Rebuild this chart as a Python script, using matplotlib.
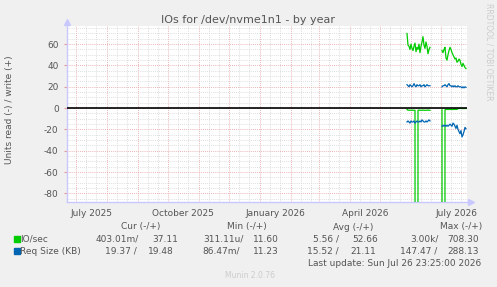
import matplotlib
matplotlib.use("Agg")
import matplotlib.pyplot as plt
import matplotlib.dates as mdates
import pandas as pd

plt.rcParams["axes.unicode_minus"] = False

W, H = 497, 287

# daily samples (munin year graph: one point per day)
seg1_start = "2026-05-28"
seg2_start = "2026-07-02"

io_write_1 = [70, 59, 58, 55, 60, 56, 54, 58, 61, 53, 57, 55, 60, 52, 58, 62,
              67, 59, 56, 62, 58, 51, 55, 57]
io_write_2 = [54, 52, 55, 57, 47, 45, 50, 54, 57, 55, 52, 50, 48, 46, 47, 43,
              44, 46, 45, 41, 39, 42, 40, 38, 37.1]
io_read_1 = [-1.2, -2, -1.8, -2, -2, -1.8, -2, -2, -2, -3000, -3000, -2, -1.8,
             -2, -2, -2, -1.8, -2, -2, -2, -2, -1.8, -2, -2]
io_read_2 = [-1.5, -3000, -3000, -1.5, -1.2, -1.2, -1.3, -1.2, -1.2, -1.2,
             -1.3, -1.2, -1.2, -1.2, -1.2, -1.2, -0.4, -0.3, -0.4, -0.3, -0.4,
             -0.3, -0.4, -0.3, -0.4]
rq_write_1 = [22, 21, 20, 22, 21, 20, 21, 23, 21, 20, 22, 21, 21, 22, 20, 21,
              21, 22, 20, 21, 22, 21, 21, 21]
rq_write_2 = [20, 21, 21, 22, 21, 20, 22, 23, 21, 21, 20, 21, 20, 21, 20, 20,
              21, 20, 20, 20, 19, 20, 19, 20, 19.5]
rq_read_1 = [-13, -12, -13, -14, -12, -13, -13, -12, -14, -13, -12, -13, -13,
             -12, -13, -11, -12, -13, -13, -12, -13, -12, -11, -12]
rq_read_2 = [-17, -16, -17, -16, -17, -16, -17, -16, -15, -16, -17, -14, -15,
             -17, -19, -16, -20, -22, -24, -21, -27, -25, -22, -18, -19.4]

series_names = ["IO/sec", "Req Size (KB)"]
series_colors = ["#00CC00", "#0066B3"]
col_headers = ["Cur (-/+)", "Min (-/+)", "Avg (-/+)", "Max (-/+)"]
io_stats = ["403.01m/", "37.11", "311.11u/", "11.60", "5.56 /", "52.66", "3.00k/", "708.30"]
rq_stats = ["19.37 /", "19.48", "86.47m/", "11.23", "15.52 /", "21.11", "147.47 /", "288.13"]

d1 = pd.date_range(seg1_start, periods=len(io_write_1), freq="D")
d2 = pd.date_range(seg2_start, periods=len(io_write_2), freq="D")

fig = plt.figure(figsize=(W / 100, H / 100), dpi=100, facecolor="#F0F0F0")
L, R, T, B = 67, 467, 26, 202
ax = fig.add_axes([L / W, 1 - B / H, (R - L) / W, (B - T) / H])
ax.set_facecolor("white")

def fx(x):
    return x / W

def fy(y):
    return 1 - y / H

# lines
for d, a, b, c in [(d1, io_write_1, io_read_1, series_colors[0]),
                   (d2, io_write_2, io_read_2, series_colors[0]),
                   (d1, rq_write_1, rq_read_1, series_colors[1]),
                   (d2, rq_write_2, rq_read_2, series_colors[1])]:
    ax.plot(d, a, color=c, lw=0.9, zorder=3)
    ax.plot(d, b, color=c, lw=0.9, zorder=3)

ax.axhline(0, color="black", lw=1.2, zorder=4)

ax.set_xlim(pd.Timestamp("2025-06-22"), pd.Timestamp("2026-07-27"))
ax.set_ylim(-88, 77)

# grid
ax.xaxis.set_major_locator(mdates.MonthLocator())
ax.xaxis.set_minor_locator(mdates.MonthLocator(bymonthday=[11, 21]))
ax.yaxis.set_major_locator(plt.MultipleLocator(20))
ax.yaxis.set_minor_locator(plt.MultipleLocator(5))
ax.grid(which="minor", color="#D4D4D4", lw=0.6, ls=(0, (1, 1.5)), zorder=1)
ax.grid(which="major", color="#E49C9C", lw=0.6, ls=(0, (1, 1.5)), zorder=2)
ax.set_xticklabels([])
ax.tick_params(axis="x", which="both", length=0)
ax.tick_params(axis="y", which="minor", length=0)
ax.tick_params(axis="y", which="major", length=2, color="#E49C9C",
               labelsize=6.5, labelcolor="#555555", pad=4)

for s in ["top", "right"]:
    ax.spines[s].set_visible(False)
for s in ["left", "bottom"]:
    ax.spines[s].set_color("#C8C8FF")
    ax.spines[s].set_linewidth(1.0)
ax.plot([0], [1.02], marker="^", color="#C8C8FF", ms=4, transform=ax.transAxes, clip_on=False)
ax.plot([1.01], [0], marker=">", color="#C8C8FF", ms=4, transform=ax.transAxes, clip_on=False)

# month labels (rrdtool centers them mid-month)
for lab in ["2025-07-16", "2025-10-16", "2026-01-16", "2026-04-16", "2026-07-16"]:
    t = pd.Timestamp(lab)
    ax.text(t, -0.065, t.strftime("%B %Y"), transform=ax.get_xaxis_transform(),
            ha="center", va="center", fontsize=6.5, color="#555555")

# titles
fig.text(fx(248), fy(20), "IOs for /dev/nvme1n1 - by year", ha="center", va="center",
         fontsize=8, color="#555555")
fig.text(fx(10), fy(110), "Units read (-) / write (+)", rotation=90, ha="center",
         va="center", fontsize=6.5, color="#555555")
fig.text(fx(489), fy(52), "RRDTOOL / TOBI OETIKER", rotation=270, ha="center",
         va="center", fontsize=5.5, color="#CCCCCC")

# legend
hdr_x = [121, 227, 333, 440]
for x, h in zip(hdr_x, col_headers):
    fig.text(fx(x), fy(227), h, ha="left", va="center", fontsize=6.5, color="#555555")

io_x = [96, 152, 203, 253, 313, 352, 410, 447]
rq_x = [105, 148, 202, 253, 307, 350, 400, 447]
for yy, name, color, stats, xs in [(239, series_names[0], series_colors[0], io_stats, io_x),
                                    (251, series_names[1], series_colors[1], rq_stats, rq_x)]:
    fig.patches.append(plt.Rectangle((fx(14), fy(yy + 3)), 6 / W, 6 / H,
                                     transform=fig.transFigure, color=color))
    fig.text(fx(20.5), fy(yy), name, ha="left", va="center", fontsize=6.5, color="#555555")
    for x, s in zip(xs, stats):
        fig.text(fx(x), fy(yy), s, ha="left", va="center", fontsize=6.5, color="#555555")

fig.text(fx(308), fy(263), "Last update: Sun Jul 26 23:25:00 2026", ha="left", va="center",
         fontsize=6.5, color="#555555")
fig.text(fx(225), fy(275), "Munin 2.0.76", ha="left", va="center", fontsize=5.5,
         color="#CCCCCC")

fig.savefig("out.png", dpi=100, facecolor=fig.get_facecolor())
